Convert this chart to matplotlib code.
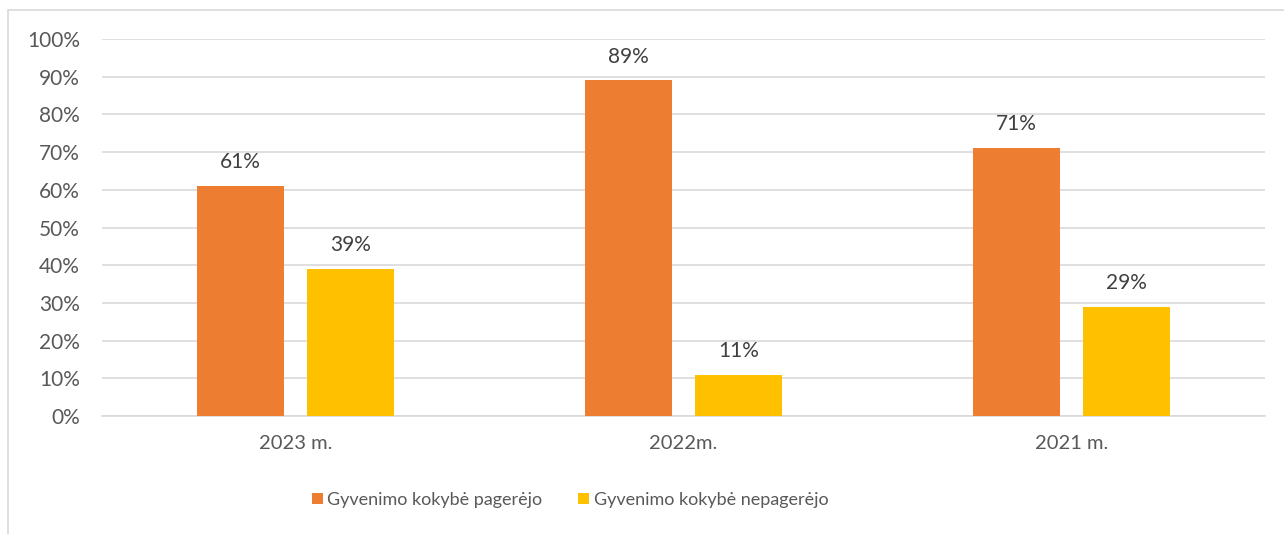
import matplotlib.pyplot as plt
import numpy as np
from matplotlib.patches import Rectangle

plt.rcParams['font.family'] = ['Lato', 'DejaVu Sans']

years = ["2023 m.", "2022m.", "2021 m."]
improved = [61, 89, 71]
not_improved = [39, 11, 29]
series_names = ["Gyvenimo kokybė pagerėjo", "Gyvenimo kokybė nepagerėjo"]
colors = ["#ED7D31", "#FFC000"]
text_col = "#595959"

fig = plt.figure(figsize=[12.84, 5.34], dpi=100)

# chart frame (cut at right and bottom)
fig.patches.append(Rectangle((8 / 1284, -0.1), 1.2, (534 - 10) / 534 + 0.1,
                             transform=fig.transFigure, fill=False,
                             edgecolor="#D9D9D9", linewidth=1.2))

ax = fig.add_axes([102 / 1284, (534 - 416) / 534, (1265 - 102) / 1284, (416 - 39) / 534])

x = np.arange(len(years))
w = 0.224
off = 0.142
b1 = ax.bar(x - off, improved, w, color=colors[0], label=series_names[0], zorder=3)
b2 = ax.bar(x + off, not_improved, w, color=colors[1], label=series_names[1], zorder=3)

for bars in (b1, b2):
    for r in bars:
        h = r.get_height()
        ax.annotate(f"{h:.0f}%", (r.get_x() + r.get_width() / 2, h),
                    xytext=(0, 10), textcoords="offset points",
                    ha="center", va="bottom", fontsize=15, color="#404040")

ax.set_xlim(-0.5, 2.5)
ax.set_ylim(0, 100)
ax.set_yticks(range(0, 101, 10))
ax.set_yticklabels([f"{v}%" for v in range(0, 101, 10)], fontsize=15, color=text_col)
ax.set_xticks(x)
ax.set_xticklabels(years, fontsize=14.5, color=text_col)
ax.tick_params(axis="y", length=0, pad=16)
ax.tick_params(axis="x", length=0, pad=14)
ax.grid(axis="y", color="#D9D9D9", linewidth=1.2, zorder=0)
for s in ["top", "right", "left"]:
    ax.spines[s].set_visible(False)
ax.spines["bottom"].set_color("#D9D9D9")
ax.spines["bottom"].set_linewidth(1.2)

fig.legend(loc="center", bbox_to_anchor=(570 / 1284, (534 - 500) / 534), ncol=2, frameon=False,
           fontsize=13, labelcolor=text_col, handlelength=0.6, handleheight=0.6,
           handletextpad=0.25, columnspacing=2.0)

fig.savefig("out.png", dpi=100)
